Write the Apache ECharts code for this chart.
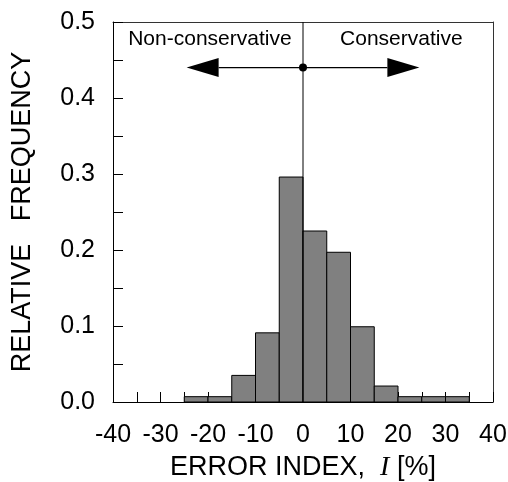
<!DOCTYPE html>
<html>
<head>
<meta charset="utf-8">
<script src="https://cdn.jsdelivr.net/npm/echarts@6/dist/echarts.min.js"></script>
<style>
  html, body { margin: 0; padding: 0; background: #fff; }
  #chart { width: 508px; height: 482px; }
</style>
</head>
<body>
<div id="chart"></div>
<script>
// histogram bins (error index, %)
const binStarts = [-25, -20, -15, -10, -5, 0, 5, 10, 15, 20, 25, 30]
const binEnds = [-20, -15, -10, -5, 0, 5, 10, 15, 20, 25, 30, 35]
const relFreq = [0.007, 0.007, 0.035, 0.091, 0.296, 0.225, 0.197, 0.099, 0.021, 0.007, 0.007, 0.007]

// annotation
const arrowY = 0.44
const arrowLeft = -24.5
const arrowRight = 24.5
const leftText = 'Non-conservative'
const rightText = 'Conservative'

const font = 'Liberation Sans, Arial, sans-serif'

const chart = echarts.init(document.getElementById('chart'))

const barData = binStarts.map((s, i) => [s, binEnds[i], relFreq[i]])

const option = {
  animation: false,
  backgroundColor: '#fff',
  grid: { left: 113, top: 22, width: 380, height: 380, outerBoundsMode: 'none' },
  xAxis: [{
    type: 'value',
    min: -40,
    max: 40,
    interval: 5,
    axisLine: { show: true, lineStyle: { color: '#000', width: 1 } },
    axisTick: { show: true, inside: true, length: 10, lineStyle: { color: '#000' } },
    axisLabel: {
      margin: 21,
      fontSize: 25,
      fontFamily: font,
      color: '#000',
      hideOverlap: false,
      formatter: v => (v % 10 === 0 ? String(v) : '')
    },
    splitLine: { show: false },
    name: '{a|ERROR INDEX,  }{b|I}{a| [%]}',
    nameLocation: 'middle',
    nameGap: 52,
    nameTextStyle: {
      rich: {
        a: { fontSize: 27, fontFamily: font, color: '#000' },
        b: { fontSize: 28, fontFamily: 'Liberation Serif, Times New Roman, serif', fontStyle: 'italic', color: '#000' }
      }
    }
  }, {
    type: 'value',
    position: 'top',
    min: -40,
    max: 40,
    axisLine: { show: true, onZero: false, lineStyle: { color: '#333' } },
    axisTick: { show: false },
    axisLabel: { show: false },
    splitLine: { show: false }
  }],
  yAxis: [{
    type: 'value',
    min: 0,
    max: 0.5,
    interval: 0.05,
    axisLine: { show: true, onZero: false, lineStyle: { color: '#000', width: 1 } },
    axisTick: { show: true, inside: true, length: 10, lineStyle: { color: '#000' } },
    axisLabel: {
      margin: 18,
      fontSize: 25,
      fontFamily: font,
      color: '#000',
      formatter: v => {
        const t = Math.round(v * 100)
        return t % 10 === 0 ? (t / 100).toFixed(1) : ''
      }
    },
    splitLine: { show: false },
    name: 'RELATIVE   FREQUENCY',
    nameLocation: 'middle',
    nameGap: 77,
    nameTextStyle: { fontSize: 27, fontFamily: font, color: '#000' }
  }, {
    type: 'value',
    position: 'right',
    min: 0,
    max: 0.5,
    axisLine: { show: true, onZero: false, lineStyle: { color: '#333' } },
    axisTick: { show: false },
    axisLabel: { show: false },
    splitLine: { show: false }
  }],
  series: [{
    type: 'custom',
    name: 'hist',
    data: barData,
    encode: { x: [0, 1], y: 2 },
    renderItem(params, api) {
      const p0 = api.coord([api.value(0), 0])
      const p1 = api.coord([api.value(1), api.value(2)])
      return {
        type: 'rect',
        shape: { x: p0[0], y: p1[1], width: p1[0] - p0[0], height: p0[1] - p1[1] },
        style: { fill: '#808080', stroke: '#000', lineWidth: 1 }
      }
    }
  }, {
    type: 'custom',
    name: 'annot',
    data: [[0, arrowY]],
    clip: false,
    z: 5,
    renderItem(params, api) {
      const top = api.coord([0, 0.5])
      const bot = api.coord([0, 0])
      const c = api.coord([0, arrowY])
      const l = api.coord([arrowLeft, arrowY])
      const r = api.coord([arrowRight, arrowY])
      const tL = api.coord([-19.6, 0.478])
      const tR = api.coord([20.7, 0.478])
      const hl = 32, hw = 9.5
      return {
        type: 'group',
        children: [
          { type: 'line', shape: { x1: top[0], y1: top[1], x2: bot[0], y2: bot[1] }, style: { stroke: '#000', lineWidth: 1 } },
          { type: 'line', shape: { x1: l[0] + hl, y1: l[1], x2: r[0] - hl, y2: r[1] }, style: { stroke: '#000', lineWidth: 1.2 } },
          { type: 'polygon', shape: { points: [[l[0], l[1]], [l[0] + hl, l[1] - hw], [l[0] + hl, l[1] + hw]] }, style: { fill: '#000' } },
          { type: 'polygon', shape: { points: [[r[0], r[1]], [r[0] - hl, r[1] - hw], [r[0] - hl, r[1] + hw]] }, style: { fill: '#000' } },
          { type: 'circle', shape: { cx: c[0], cy: c[1], r: 4 }, style: { fill: '#000' } },
          { type: 'text', x: tL[0], y: tL[1], style: { text: leftText, align: 'center', verticalAlign: 'middle', fontSize: 21, fontFamily: font, fill: '#000' } },
          { type: 'text', x: tR[0], y: tR[1], style: { text: rightText, align: 'center', verticalAlign: 'middle', fontSize: 21, fontFamily: font, fill: '#000' } }
        ]
      }
    }
  }]
}

chart.setOption(option)
</script>
</body>
</html>
